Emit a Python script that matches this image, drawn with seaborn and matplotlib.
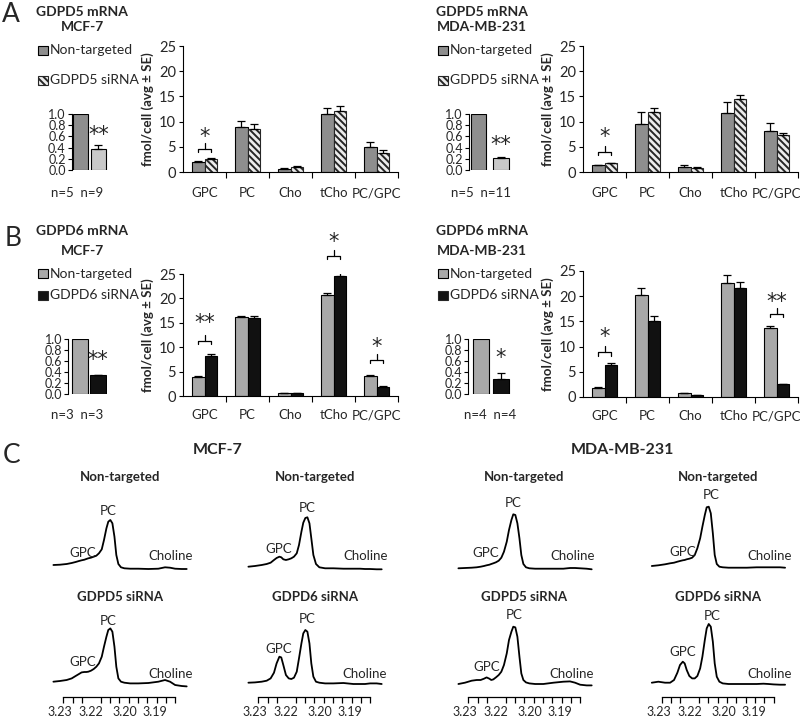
import numpy as np
import pandas as pd
import matplotlib
matplotlib.use('Agg')
import matplotlib.pyplot as plt
import seaborn as sns
from matplotlib.patches import Rectangle

# ---------------- data ----------------
metabolites = ['GPC', 'PC', 'Cho', 'tCho', 'PC/GPC']

a_mcf7_nt = [1.9, 9.0, 0.65, 11.5, 4.9]
a_mcf7_nt_err = [0.3, 1.1, 0.1, 1.2, 1.0]
a_mcf7_si = [2.6, 8.6, 0.9, 12.2, 3.8]
a_mcf7_si_err = [0.2, 0.9, 0.2, 0.8, 0.5]

a_mda_nt = [1.3, 9.6, 1.0, 11.7, 8.1]
a_mda_nt_err = [0.1, 2.3, 0.3, 2.2, 1.6]
a_mda_si = [1.7, 12.0, 0.85, 14.4, 7.4]
a_mda_si_err = [0.1, 0.7, 0.1, 0.9, 0.4]

b_mcf7_nt = [3.8, 16.1, 0.55, 20.6, 4.2]
b_mcf7_nt_err = [0.4, 0.2, 0.05, 0.5, 0.2]
b_mcf7_si = [8.2, 15.9, 0.55, 24.6, 1.9]
b_mcf7_si_err = [0.4, 0.4, 0.05, 0.8, 0.2]

b_mda_nt = [1.8, 20.3, 0.7, 22.6, 13.7]
b_mda_nt_err = [0.1, 1.4, 0.1, 1.7, 0.4]
b_mda_si = [6.3, 15.1, 0.3, 21.6, 2.5]
b_mda_si_err = [0.4, 0.9, 0.05, 1.3, 0.1]

a_mcf7_mrna = [1.0, 0.37]
a_mcf7_mrna_err = [0.0, 0.07]
a_mda_mrna = [1.0, 0.21]
a_mda_mrna_err = [0.0, 0.03]
b_mcf7_mrna = [1.0, 0.34]
b_mcf7_mrna_err = [0.0, 0.01]
b_mda_mrna = [1.0, 0.28]
b_mda_mrna_err = [0.0, 0.11]

a_mcf7_n = 'n=5  n=9'
a_mda_n = 'n=5  n=11'
b_mcf7_n = 'n=3  n=3'
b_mda_n = 'n=4  n=4'

# significance: (category index, bracket level, star level, label)
a_mcf7_sig = [(0, 4.6, 6.9, '*')]
a_mda_sig = [(0, 4.0, 7.0, '*')]
b_mcf7_sig = [(0, 11.3, 15.0, '**'), (3, 28.7, 31.6, '*'), (4, 7.4, 10.1, '*')]
b_mda_sig = [(0, 8.9, 11.9, '*'), (4, 16.5, 18.9, '**')]

# NMR spectra (ppm, intensity in arbitrary units)
spec_ppm = [3.2403, 3.2368, 3.2332, 3.2305, 3.2284, 3.2266, 3.2252, 3.2237, 3.2227, 3.2216,
            3.2202, 3.2187, 3.2173, 3.2159, 3.2144, 3.2132, 3.2119, 3.2109, 3.2098, 3.2087,
            3.2076, 3.2066, 3.2055, 3.2041, 3.2023, 3.1992, 3.1948, 3.1894, 3.1841, 3.1805,
            3.1778, 3.1751, 3.1716, 3.1689]
mcf7_nt_a = [5.0, 5.3, 6.0, 7.0, 8.0, 9.0, 9.7, 10.3, 11.0, 11.7, 12.3, 13.3, 14.3, 16.7, 20.7,
             30.0, 41.7, 48.3, 50.0, 46.7, 33.3, 15.0, 6.0, 2.7, 1.7, 1.3, 1.3, 1.0, 1.3, 2.7,
             2.3, 1.3, 1.0, 1.0]
mcf7_gdpd5 = [5.0, 5.7, 6.7, 8.3, 10.7, 12.7, 14.3, 14.7, 14.7, 15.0, 16.0, 17.7, 20.0, 23.3, 30.0,
              40.0, 50.0, 56.7, 58.3, 55.0, 40.0, 20.0, 8.3, 5.0, 4.0, 3.3, 3.3, 3.7, 5.0, 6.7,
              5.0, 1.7, 0.7, 0.3]
mcf7_nt_b = [3.3, 4.0, 5.0, 6.0, 7.3, 10.0, 12.0, 13.3, 12.7, 10.7, 10.0, 10.7, 11.7, 13.3, 16.7,
             25.0, 38.3, 47.3, 52.0, 52.7, 46.7, 31.7, 15.0, 6.0, 2.7, 1.7, 1.7, 1.3, 1.3, 1.3,
             1.0, 1.0, 0.7, 0.7]
mcf7_gdpd6 = [4.0, 4.3, 5.0, 6.0, 8.3, 14.0, 23.3, 30.0, 29.3, 21.7, 11.7, 8.3, 7.7, 9.0, 15.0,
              28.3, 43.3, 53.3, 56.7, 55.0, 43.3, 23.3, 10.0, 5.0, 4.0, 3.3, 3.3, 3.7, 2.7, 2.7,
              2.7, 3.3, 3.3, 2.7]
mda_nt_a = [1.7, 2.0, 2.3, 2.7, 3.3, 4.0, 4.7, 5.3, 6.0, 6.7, 7.7, 9.3, 12.3, 18.3, 28.3,
            40.0, 50.0, 55.7, 55.0, 46.7, 31.7, 15.0, 6.0, 2.7, 1.7, 1.3, 1.3, 1.3, 1.3, 2.0,
            2.0, 1.7, 1.3, 0.7]
mda_gdpd5 = [2.7, 4.0, 6.0, 6.7, 6.7, 8.0, 9.3, 8.0, 6.7, 7.3, 9.3, 11.7, 15.0, 21.7, 33.3,
             46.7, 55.0, 60.0, 59.3, 50.0, 30.0, 13.3, 6.7, 4.3, 3.3, 2.7, 2.7, 4.0, 5.0, 5.3,
             4.0, 2.0, 1.3, 1.3]
mda_nt_b = [4.0, 4.7, 5.7, 6.7, 7.3, 8.3, 9.0, 9.7, 10.0, 10.7, 11.3, 12.3, 15.0, 21.7, 31.7,
            43.3, 55.0, 62.7, 63.3, 56.7, 36.7, 15.0, 6.0, 3.3, 2.7, 2.3, 2.3, 2.3, 2.7, 2.7,
            2.7, 2.7, 2.7, 2.3]
mda_gdpd6 = [4.0, 5.0, 4.0, 4.0, 6.7, 14.0, 21.7, 25.0, 23.3, 16.7, 10.7, 8.3, 8.3, 10.7, 18.3,
             30.0, 46.7, 58.3, 62.7, 60.0, 45.0, 23.3, 10.0, 5.0, 3.3, 2.7, 2.7, 2.7, 2.7, 3.0,
             2.7, 2.3, 2.0, 2.0]
spec_tick_labels = ['3.23', '3.22', '3.20', '3.19']
spec_tick_ppm = [3.2366, 3.2200, 3.2018, 3.1857]

# ---------------- style ----------------
sns.set_theme(style='white')
FONT = ['Lato', 'DejaVu Sans']
plt.rcParams['font.family'] = FONT
plt.rcParams['hatch.linewidth'] = 1.4

W, H = 800, 717
fig = plt.figure(figsize=(8, 7.17), dpi=100)
fig.patch.set_facecolor('white')

def box(l, t, r, b):
    ax = fig.add_axes([l / W, 1 - b / H, (r - l) / W, (b - t) / H])
    ax.set_facecolor('none')
    return ax

def ftext(x, y, s, **kw):
    kw.setdefault('ha', 'center')
    kw.setdefault('va', 'center')
    fig.text(x / W, 1 - y / H, s, **kw)

def frect(x, y, w, h, **kw):
    fig.patches.append(Rectangle((x / W, 1 - (y + h) / H), w / W, h / H,
                                 transform=fig.transFigure, figure=fig, **kw))

FS = 9.5
FS_LEG = 10
FS_TICK = 10.5
FS_SMALL = 9
FS_STAR = 15
NT_A, NT_B = '#8e8e8e', '#a9a9a9'
SI_A, SI_B = '#ececec', '#111111'
HATCH = '\\\\\\\\\\'


def draw_main(ax, nt, nt_err, si, si_err, nt_color, si_color, hatch, sig, xpad):
    df = pd.DataFrame({'metabolite': metabolites + metabolites,
                       'value': list(nt) + list(si),
                       'group': ['Non-targeted'] * 5 + ['siRNA'] * 5})
    sns.barplot(data=df, x='metabolite', y='value', hue='group', order=metabolites,
                hue_order=['Non-targeted', 'siRNA'], palette=[nt_color, si_color],
                width=0.6, errorbar=None, saturation=1, edgecolor='black',
                linewidth=0.8, legend=False, ax=ax)
    if hatch:
        for p in ax.containers[1]:
            p.set_hatch(hatch)
            p.set_edgecolor('#262626')
    for cont, errs in zip(ax.containers, [nt_err, si_err]):
        xs = [p.get_x() + p.get_width() / 2 for p in cont]
        hs = [p.get_height() for p in cont]
        ax.errorbar(xs, hs, yerr=[np.zeros(len(errs)), errs], fmt='none',
                    ecolor='black', elinewidth=0.9, capsize=3.2, capthick=0.9, zorder=5)
    ax.set_xlim(-0.5, 4.5)
    ax.set_ylim(0, 25)
    ax.set_xlabel('')
    ax.set_ylabel('')
    ax.set_yticks([0, 5, 10, 15, 20, 25])
    ax.set_xticks(range(5))
    ax.set_xticklabels(metabolites)
    ax.set_xticks([0.5, 1.5, 2.5, 3.5, 4.5], minor=True)
    ax.tick_params(axis='x', which='major', length=0, pad=xpad, labelsize=FS)
    ax.tick_params(axis='x', which='minor', length=4, width=0.8, direction='out',
                   bottom=True, color='black')
    ax.tick_params(axis='y', length=3, width=0.8, direction='out', left=True,
                   pad=2, labelsize=FS_TICK, color='black')
    for s in ['top', 'right']:
        ax.spines[s].set_visible(False)
    for s in ['left', 'bottom']:
        ax.spines[s].set_color('black')
        ax.spines[s].set_linewidth(0.8)
    for cat, yl, ys, txt in sig:
        x1, x2 = cat - 0.15, cat + 0.15
        ax.plot([x1, x1, x2, x2], [yl - 0.7, yl, yl, yl - 0.7], color='black', lw=0.9,
                clip_on=False)
        ax.plot([cat, cat], [yl, yl + 1.2], color='black', lw=0.9, clip_on=False)
        ax.text(cat, ys, txt, ha='center', va='center',
                fontsize=FS_STAR, family='DejaVu Sans', clip_on=False)


def draw_mrna(ax, vals, errs, nt_color, si_color, xlim, barw, star, star_y):
    sns.barplot(x=['Non-targeted', 'siRNA'], y=vals, hue=['Non-targeted', 'siRNA'],
                palette=[nt_color, si_color], width=barw, errorbar=None, saturation=1,
                edgecolor='black', linewidth=0.8, legend=False, ax=ax)
    bars = sorted(ax.patches, key=lambda p: p.get_x())
    for p, e in zip(bars, errs):
        if e > 0:
            ax.errorbar([p.get_x() + p.get_width() / 2], [p.get_height()],
                        yerr=[[0], [e]], fmt='none', ecolor='black', elinewidth=0.9,
                        capsize=3, capthick=0.9, zorder=5)
    ax.set_xlim(*xlim)
    ax.set_ylim(0, 1)
    ax.set_xlabel('')
    ax.set_ylabel('')
    ax.set_xticks([])
    ax.set_yticks([0, 0.2, 0.4, 0.6, 0.8, 1.0])
    ax.set_yticklabels(['0.0', '0.2', '0.4', '0.6', '0.8', '1.0'])
    ax.tick_params(axis='y', length=3, width=0.8, direction='out', left=True, pad=1.5,
                   labelsize=FS_SMALL, color='black')
    for s in ['top', 'right', 'bottom']:
        ax.spines[s].set_visible(False)
    ax.spines['left'].set_color('black')
    ax.spines['left'].set_linewidth(0.8)
    ax.text(1, star_y, star, ha='center', va='center',
            fontsize=FS_STAR, family='DejaVu Sans', clip_on=False)


def legend(x, y1, y2, si_label, nt_color, si_color, hatch):
    frect(x, y1 - 4.5, 10, 9, facecolor=nt_color, edgecolor='black', lw=0.8)
    ftext(x + 12, y1, 'Non-targeted', ha='left', fontsize=FS_LEG)
    frect(x, y2 - 4.5, 10, 9, facecolor=si_color, edgecolor='#262626', lw=0.8,
          hatch=hatch)
    ftext(x + 12, y2, si_label, ha='left', fontsize=FS_LEG)


# ---------------- panel A & B ----------------
panels = [
    dict(dx=0, top=46, bot=172, nt=a_mcf7_nt, nte=a_mcf7_nt_err, si=a_mcf7_si,
         sie=a_mcf7_si_err, ntc=NT_A, sic=SI_A, hatch=HATCH, sig=a_mcf7_sig, xpad=11,
         mrna=a_mcf7_mrna, mrnae=a_mcf7_mrna_err, mbox=(72, 114, 107.5, 170),
         mxlim=(-0.47, 1.5), mw=0.83, msic='#c9c9c9', star='**', star_y=0.62,
         n=a_mcf7_n, ny=193, nx=77, t1='GDPD5 mRNA', t2='MCF-7', ty=12, tdy=15,
         leg=(38, 50, 80), sil='GDPD5 siRNA'),
    dict(dx=400, top=46, bot=172, nt=a_mda_nt, nte=a_mda_nt_err, si=a_mda_si,
         sie=a_mda_si_err, ntc=NT_A, sic=SI_A, hatch=HATCH, sig=a_mda_sig, xpad=11,
         mrna=a_mda_mrna, mrnae=a_mda_mrna_err, mbox=(69, 114, 112.6, 170),
         mxlim=(-0.42, 1.5), mw=0.7, msic='#c9c9c9', star='**', star_y=0.44,
         n=a_mda_n, ny=193, nx=81, t1='GDPD5 mRNA', t2='MDA-MB-231', ty=12, tdy=15,
         leg=(42, 50, 80), sil='GDPD5 siRNA'),
    dict(dx=0, top=274, bot=396, nt=b_mcf7_nt, nte=b_mcf7_nt_err, si=b_mcf7_si,
         sie=b_mcf7_si_err, ntc=NT_B, sic=SI_B, hatch=None, sig=b_mcf7_sig, xpad=9.5,
         mrna=b_mcf7_mrna, mrnae=b_mcf7_mrna_err, mbox=(68.3, 339, 107, 394),
         mxlim=(-0.65, 1.5), mw=0.88, msic=SI_B, star='**', star_y=0.62,
         n=b_mcf7_n, ny=415, nx=77, t1='GDPD6 mRNA', t2='MCF-7', ty=231, tdy=20,
         leg=(38, 274, 295), sil='GDPD6 siRNA'),
    dict(dx=400, top=271, bot=397, nt=b_mda_nt, nte=b_mda_nt_err, si=b_mda_si,
         sie=b_mda_si_err, ntc=NT_B, sic=SI_B, hatch=None, sig=b_mda_sig, xpad=9.5,
         mrna=b_mda_mrna, mrnae=b_mda_mrna_err, mbox=(68.3, 339, 111, 394),
         mxlim=(-0.64, 1.5), mw=0.8, msic=SI_B, star='*', star_y=0.65,
         n=b_mda_n, ny=415, nx=90, t1='GDPD6 mRNA', t2='MDA-MB-231', ty=231, tdy=20,
         leg=(42, 274, 295), sil='GDPD6 siRNA'),
]

for P in panels:
    dx = P['dx']
    ax = box(183 + dx, P['top'], 398 + dx, P['bot'])
    draw_main(ax, P['nt'], P['nte'], P['si'], P['sie'], P['ntc'], P['sic'],
              P['hatch'], P['sig'], P['xpad'])
    ftext(148 + dx, (P['top'] + P['bot']) / 2, 'fmol/cell (avg ± SE)', rotation=90,
          fontsize=9.5, fontweight='bold')
    l, t, r, b = P['mbox']
    axm = box(l + dx, t, r + dx, b)
    draw_mrna(axm, P['mrna'], P['mrnae'], P['ntc'], P['msic'], P['mxlim'], P['mw'],
              P['star'], P['star_y'])
    ftext(P['nx'] + dx, P['ny'], P['n'], fontsize=FS)
    ftext(82 + dx, P['ty'], P['t1'], fontsize=FS + 0.5, fontweight='bold')
    ftext(82 + dx, P['ty'] + P['tdy'], P['t2'], fontsize=FS + 0.5, fontweight='bold')
    lx, ly1, ly2 = P['leg']
    legend(lx + dx - (4 if dx else 0), ly1, ly2, P['sil'], P['ntc'], P['sic'], P['hatch'])

ftext(11, 15, 'A', fontsize=19)
ftext(13, 238, 'B', fontsize=19)
ftext(12, 455, 'C', fontsize=19)

# ---------------- panel C ----------------
ftext(218, 450, 'MCF-7', fontsize=11.5, fontweight='bold')
ftext(622, 450, 'MDA-MB-231', fontsize=11.5, fontweight='bold')

col_start = [63.3, 258.3, 468.3, 661.7]
spectra = [
    (0, 'top', mcf7_nt_a, 'Non-targeted'),
    (0, 'bot', mcf7_gdpd5, 'GDPD5 siRNA'),
    (1, 'top', mcf7_nt_b, 'Non-targeted'),
    (1, 'bot', mcf7_gdpd6, 'GDPD6 siRNA'),
    (2, 'top', mda_nt_a, 'Non-targeted'),
    (2, 'bot', mda_gdpd5, 'GDPD5 siRNA'),
    (3, 'top', mda_nt_b, 'Non-targeted'),
    (3, 'bot', mda_gdpd6, 'GDPD6 siRNA'),
]
sub_x = [120, 315, 524, 718]
PPM_PX = 0.06 / 112.0
for col, row, vals, title in spectra:
    x0 = col_start[col]
    base = 570 if row == 'top' else 686.7
    ax = box(x0 - (3.2405 - 3.235) / PPM_PX, base - 70, x0 + (3.235 - 3.1685) / PPM_PX, base)
    sns.lineplot(x=spec_ppm, y=vals, ax=ax, color='black', lw=1.3, clip_on=False)
    ax.set_xlim(3.2405, 3.1685)
    ax.set_ylim(0, 70)
    ax.set_xlabel('')
    ax.set_ylabel('')
    for s in ['top', 'right', 'left']:
        ax.spines[s].set_visible(False)
    ax.set_yticks([])
    if row == 'top':
        ax.spines['bottom'].set_visible(False)
        ax.set_xticks([])
    else:
        sp = ax.spines['bottom']
        sp.set_position(('outward', 7.5))
        sp.set_bounds(3.175, 3.235)
        sp.set_color('black')
        sp.set_linewidth(0.9)
        ax.set_xticks(spec_tick_ppm)
        ax.set_xticklabels(spec_tick_labels)
        ax.set_xticks(np.linspace(3.175, 3.235, 13), minor=True)
        ax.tick_params(axis='x', which='major', length=0, pad=6.3, labelsize=9)
        ax.tick_params(axis='x', which='minor', length=4, width=0.9, direction='out',
                       bottom=True, color='black')
    ftext(sub_x[col], 477 if row == 'top' else 597, title, fontsize=9.5, fontweight='bold')

# peak labels (pixel positions)
lab_pc = [(108, 511), (108, 621), (307, 508), (307, 619), (513, 503), (514, 615), (711, 495), (712, 616)]
lab_gpc = [(83, 553), (83, 662), (279, 549), (279, 649), (486, 553), (487, 667), (683, 552), (683, 652)]
lab_cho = [(171, 556), (171, 674), (366, 556), (365, 674), (573, 556), (572, 674), (770, 556), (770, 674)]
for (x, y) in lab_pc:
    ftext(x, y, 'PC', fontsize=FS)
for (x, y) in lab_gpc:
    ftext(x, y, 'GPC', fontsize=FS)
for (x, y) in lab_cho:
    ftext(x, y, 'Choline', fontsize=FS)

fig.savefig('out.png', dpi=100, facecolor='white')
